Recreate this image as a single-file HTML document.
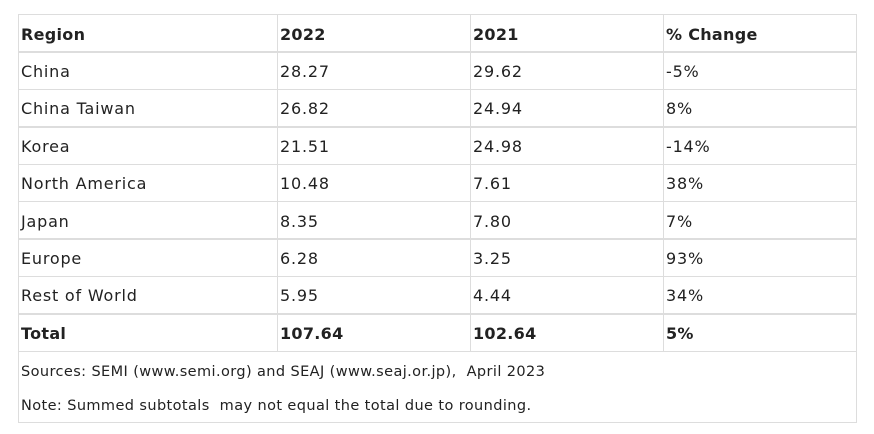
<!DOCTYPE html>
<html><head><style>
body{margin:0;width:874px;height:434px;background:#fff;font-family:"DejaVu Sans","Liberation Sans",sans-serif;color:#222;position:relative;overflow:hidden}
.box{position:absolute;left:18px;top:14px;width:837px;height:407px;border:1px solid #ddd}
.h{position:absolute;left:18px;width:838px;background:#ddd;height:1px}
.v{position:absolute;width:1px;background:#ddd;top:14px;height:338px}
.t{position:absolute;font-size:16px;white-space:nowrap;line-height:20px;letter-spacing:0.8px}
.b{font-weight:bold;letter-spacing:0.3px}
.s{position:absolute;left:21px;font-size:14.5px;white-space:nowrap;line-height:18px;letter-spacing:0.4px}
</style></head><body>
<div class="box"></div>
<div class="h" style="top:51px;height:2px"></div>
<div class="h" style="top:89px"></div>
<div class="h" style="top:126px;height:2px"></div>
<div class="h" style="top:164px"></div>
<div class="h" style="top:201px"></div>
<div class="h" style="top:238px;height:2px"></div>
<div class="h" style="top:276px"></div>
<div class="h" style="top:313px;height:2px"></div>
<div class="h" style="top:351px"></div>
<div class="v" style="left:277px"></div>
<div class="v" style="left:470px"></div>
<div class="v" style="left:663px"></div>
<div class="t b" style="left:21px;top:25px">Region</div><div class="t b" style="left:280px;top:25px">2022</div><div class="t b" style="left:473px;top:25px">2021</div><div class="t b" style="left:666px;top:25px">% Change</div>
<div class="t" style="left:21px;top:62px">China</div><div class="t" style="left:280px;top:62px">28.27</div><div class="t" style="left:473px;top:62px">29.62</div><div class="t" style="left:666px;top:62px">-5%</div>
<div class="t" style="left:21px;top:99px">China Taiwan</div><div class="t" style="left:280px;top:99px">26.82</div><div class="t" style="left:473px;top:99px">24.94</div><div class="t" style="left:666px;top:99px">8%</div>
<div class="t" style="left:21px;top:137px">Korea</div><div class="t" style="left:280px;top:137px">21.51</div><div class="t" style="left:473px;top:137px">24.98</div><div class="t" style="left:666px;top:137px">-14%</div>
<div class="t" style="left:21px;top:174px">North America</div><div class="t" style="left:280px;top:174px">10.48</div><div class="t" style="left:473px;top:174px">7.61</div><div class="t" style="left:666px;top:174px">38%</div>
<div class="t" style="left:21px;top:212px">Japan</div><div class="t" style="left:280px;top:212px">8.35</div><div class="t" style="left:473px;top:212px">7.80</div><div class="t" style="left:666px;top:212px">7%</div>
<div class="t" style="left:21px;top:249px">Europe</div><div class="t" style="left:280px;top:249px">6.28</div><div class="t" style="left:473px;top:249px">3.25</div><div class="t" style="left:666px;top:249px">93%</div>
<div class="t" style="left:21px;top:286px">Rest of World</div><div class="t" style="left:280px;top:286px">5.95</div><div class="t" style="left:473px;top:286px">4.44</div><div class="t" style="left:666px;top:286px">34%</div>
<div class="t b" style="left:21px;top:324px">Total</div><div class="t b" style="left:280px;top:324px">107.64</div><div class="t b" style="left:473px;top:324px">102.64</div><div class="t b" style="left:666px;top:324px">5%</div>
<div class="s" style="top:363px">Sources: SEMI (www.semi.org) and SEAJ (www.seaj.or.jp),&nbsp; April 2023</div>
<div class="s" style="top:397px">Note: Summed subtotals&nbsp; may not equal the total due to rounding.</div>
</body></html>
